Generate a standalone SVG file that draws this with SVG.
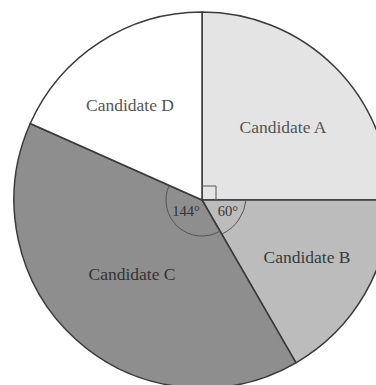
<svg xmlns="http://www.w3.org/2000/svg" width="376" height="385" viewBox="0 0 376 385">
<style>
.sl{stroke:#3a3a3a;stroke-width:1.5;stroke-linejoin:round}
.lbl{font-family:"Liberation Serif","Times New Roman",serif;font-size:17.5px;text-anchor:middle}
.ang{font-family:"Liberation Serif","Times New Roman",serif;font-size:14.5px;text-anchor:middle;fill:#333}
.mk{fill:none;stroke:#555;stroke-width:1}
</style>
<rect width="376" height="385" fill="#fff"/>
<g id="candidate-a">
<path class="sl" fill="#e4e4e4" d="M202,200 L202,12 A188,188 0 0 1 390,200 Z"/>
<text class="lbl" x="283" y="133" fill="#555">Candidate A</text>
</g>
<g id="candidate-b">
<path class="sl" fill="#bcbcbc" d="M202,200 L390,200 A188,188 0 0 1 296,362.8 Z"/>
<text class="lbl" x="307" y="263" fill="#3a3a3a">Candidate B</text>
</g>
<g id="candidate-c">
<path class="sl" fill="#8e8e8e" d="M202,200 L296,362.8 A188,188 0 0 1 30.25,123.53 Z"/>
<text class="lbl" x="132" y="280" fill="#333">Candidate C</text>
</g>
<g id="candidate-d">
<path class="sl" fill="#ffffff" d="M202,200 L30.25,123.53 A188,188 0 0 1 202,12 Z"/>
<text class="lbl" x="130" y="111" fill="#555">Candidate D</text>
</g>
<g id="angle-marks">
<path class="mk" d="M202,186 H216 V200"/>
<path class="mk" d="M220,231.2 A36,36 0 0 1 169.1,185.4"/>
<path class="mk" d="M246,200 A42,42 0 0 1 222,234"/>
<text class="ang" x="186" y="216">144°</text>
<text class="ang" x="228" y="216">60°</text>
</g>
</svg>
